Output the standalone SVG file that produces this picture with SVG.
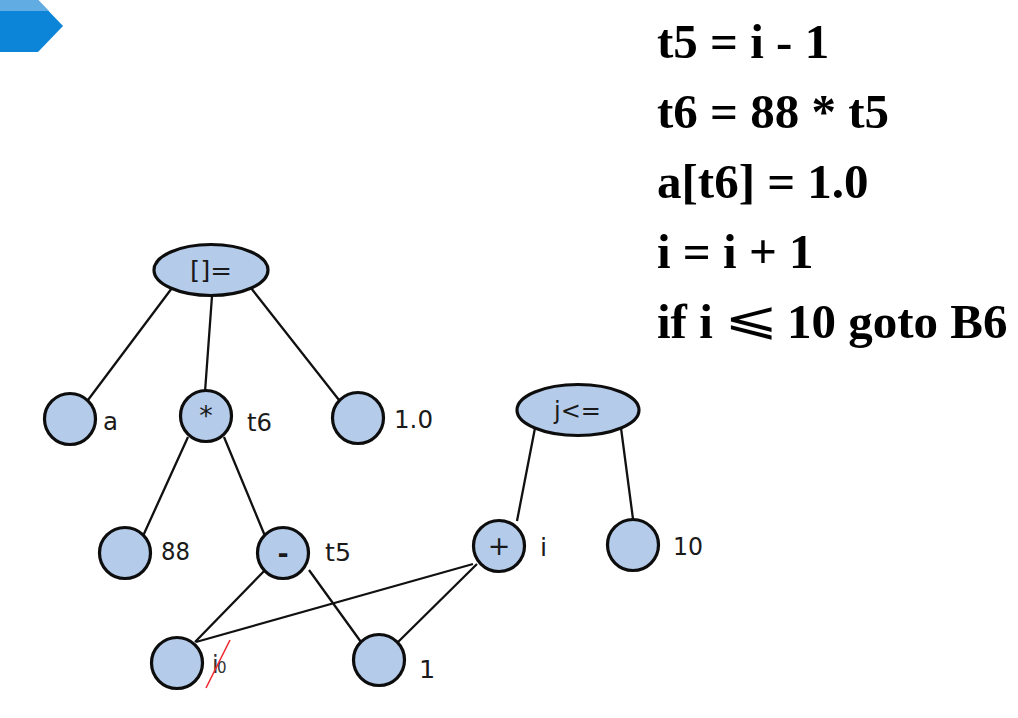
<svg xmlns="http://www.w3.org/2000/svg" width="1018" height="718" viewBox="0 0 1018 718">
<style>
.n{fill:#b4cbea;stroke:#0d0d0d;stroke-width:3.200}
.c{stroke:#111;stroke-width:2.300;fill:none}
.l{font-family:"DejaVu Sans",sans-serif;font-size:25.500px;fill:#1a1a1a}
.m{text-anchor:middle;font-size:27px}
.t{font-family:"Liberation Serif",serif;font-weight:bold;font-size:49px;fill:#000}
</style>
<rect width="1018" height="718" fill="#fff"/>
<g id="banner"><polygon points="0,0 38,0 63,26 38,52 0,52" fill="#0c85d8"/><polygon points="0,0 38,0 49,11 0,11" fill="#62ace4"/></g>
<g id="code">
<text class="t" x="657" y="57.500">t5 = i - 1</text>
<text class="t" x="657" y="127.500">t6 = 88 * t5</text>
<text class="t" x="657" y="197.500">a[t6] = 1.0</text>
<text class="t" x="657" y="267.500">i = i + 1</text>
<text class="t" x="657" y="337.500">if i</text>
<text transform="translate(724 334) scale(1.3 .92)" font-family="DejaVu Sans,sans-serif" font-weight="200" font-size="50" fill="#000">⩽</text>
<text class="t" x="787" y="337.500">10 goto B6</text>
</g>
<g id="connectors">
<path class="c" d="M172 288L88 400M212 296L205 392M251 288L339 400M188 437L143 536M224 437L265 536M535 428L517 521M621 428L633 519M269 566L195 642M473 564L196 642M309 570L361 642M477 564L396 644"/>
</g>
<g id="n-root"><ellipse class="n" cx="211" cy="270" rx="57" ry="25.500"/><text class="l" x="190" y="279" textLength="42" lengthAdjust="spacingAndGlyphs">[]=</text></g>
<g id="n-a"><circle class="n" cx="70" cy="419" r="25.500"/><text class="l" x="103" y="430" textLength="15" lengthAdjust="spacingAndGlyphs">a</text></g>
<g id="n-t6"><circle class="n" cx="206" cy="416" r="25.500"/><text class="l m" x="206" y="425">*</text><text class="l" x="247" y="431" textLength="25" lengthAdjust="spacingAndGlyphs">t6</text></g>
<g id="n-10f"><circle class="n" cx="358" cy="418" r="25.500"/><text class="l" x="394" y="428" textLength="39" lengthAdjust="spacingAndGlyphs">1.0</text></g>
<g id="n-j"><ellipse class="n" cx="578" cy="410" rx="61" ry="25.500"/><text class="l" x="554" y="419" textLength="47" lengthAdjust="spacingAndGlyphs">j&lt;=</text></g>
<g id="n-88"><circle class="n" cx="125" cy="553" r="25.500"/><text class="l" x="161" y="560" textLength="29" lengthAdjust="spacingAndGlyphs">88</text></g>
<g id="n-t5"><circle class="n" cx="283" cy="553" r="25.500"/><text class="l m" x="283" y="563" font-weight="bold">-</text><text class="l" x="325" y="561" textLength="26" lengthAdjust="spacingAndGlyphs">t5</text></g>
<g id="n-i"><circle class="n" cx="499" cy="546" r="25.500"/><text class="l m" x="499" y="555">+</text><text class="l" x="540" y="556">i</text></g>
<g id="n-10"><circle class="n" cx="633" cy="545" r="25.500"/><text class="l" x="673" y="555" textLength="30" lengthAdjust="spacingAndGlyphs">10</text></g>
<g id="n-i0"><circle class="n" cx="177" cy="663" r="25.500"/><text x="212" y="673" font-family="DejaVu Sans,sans-serif" font-size="24" fill="#333">i</text><text x="217" y="673" font-family="DejaVu Sans,sans-serif" font-size="15" fill="#333">0</text><path d="M206 688L230 640" stroke="#f0252c" stroke-width="1.500"/></g>
<g id="n-1"><circle class="n" cx="379" cy="660" r="25.500"/><text class="l" x="419" y="678">1</text></g>
</svg>
